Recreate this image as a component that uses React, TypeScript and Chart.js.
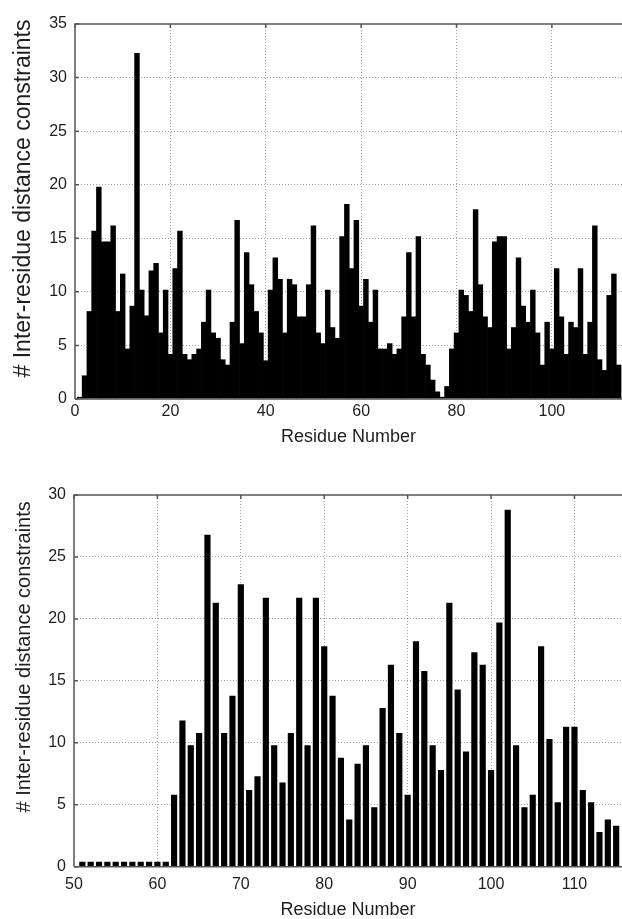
import React, { useEffect, useRef } from "react";
import { Chart, registerables } from "chart.js";

Chart.register(...registerables);

// ---------- data ----------
const range = (a: number, b: number) => {
  const out: number[] = [];
  for (let i = a; i <= b; i++) out.push(i);
  return out;
};

const topResidues = range(1, 114);
const topCounts = [
  0.2, 2.2, 8.2, 15.7, 19.8, 14.7, 14.7, 16.2, 8.2, 11.7,
  4.7, 8.7, 32.3, 10.2, 7.8, 12.0, 12.7, 6.2, 10.2, 4.2,
  12.2, 15.7, 4.2, 3.7, 4.2, 4.7, 7.2, 10.2, 6.2, 5.7,
  3.7, 3.2, 7.2, 16.7, 5.2, 13.7, 10.7, 8.2, 6.2, 3.6,
  10.2, 13.2, 11.2, 6.2, 11.2, 10.7, 7.7, 7.7, 10.7, 16.2,
  6.2, 5.2, 10.2, 6.7, 5.7, 15.2, 18.2, 12.2, 16.7, 8.7,
  11.2, 7.2, 10.2, 4.7, 4.7, 5.2, 4.2, 4.7, 7.7, 13.7,
  7.7, 15.2, 4.2, 3.2, 1.8, 0.7, 0.2, 1.2, 4.7, 6.2,
  10.2, 9.7, 8.2, 17.7, 10.7, 7.7, 6.7, 14.7, 15.2, 15.2,
  4.7, 6.7, 13.2, 8.7, 7.2, 10.2, 6.2, 3.2, 7.2, 4.7,
  12.2, 7.7, 4.2, 7.2, 6.7, 12.2, 4.2, 7.2, 16.2, 3.7,
  2.7, 9.7, 11.7, 3.2,
];
const topXTicks = [0, 20, 40, 60, 80, 100];
const topYTicks = [0, 5, 10, 15, 20, 25, 30, 35];

const bottomResidues = range(51, 115);
const bottomCounts = [
  0.4, 0.4, 0.4, 0.4, 0.4, 0.4, 0.4, 0.4, 0.4, 0.4,
  0.4, 5.8, 11.8, 9.8, 10.8, 26.8, 21.3, 10.8, 13.8, 22.8,
  6.2, 7.3, 21.7, 9.8, 6.8, 10.8, 21.7, 9.8, 21.7, 17.8,
  13.8, 8.8, 3.8, 8.3, 9.8, 4.8, 12.8, 16.3, 10.8, 5.8,
  18.2, 15.8, 9.8, 7.8, 21.3, 14.3, 9.3, 17.3, 16.3, 7.8,
  19.7, 28.8, 9.8, 4.8, 5.8, 17.8, 10.3, 5.2, 11.3, 11.3,
  6.2, 5.2, 2.8, 3.8, 3.3,
];
const bottomXTicks = [50, 60, 70, 80, 90, 100, 110];
const bottomYTicks = [0, 5, 10, 15, 20, 25, 30];

const xTitle = "Residue Number";
const yTitle = "# Inter-residue distance constraints";

// ---------- styling ----------
const FONT = "'Liberation Sans', Arial, Helvetica, sans-serif";
const TEXT = "#1e1e1e";
const GRID = "#a0a0a0";
const FRAME = "#555555";

const framePlugin = {
  id: "frame",
  afterDraw(chart: any, _args: any, opts: any) {
    const { ctx, chartArea: a } = chart;
    const xs = chart.scales.x;
    const ys = chart.scales.y;
    ctx.save();
    ctx.strokeStyle = FRAME;
    ctx.lineWidth = 1.5;
    ctx.beginPath();
    ctx.moveTo(a.left, a.bottom);
    ctx.lineTo(a.left, a.top);
    ctx.lineTo(a.right + 2, a.top);
    ctx.moveTo(a.left, a.bottom);
    ctx.lineTo(a.right + 2, a.bottom);
    ctx.stroke();
    // inward ticks
    ctx.beginPath();
    for (const v of opts.xTicks as number[]) {
      const px = xs.getPixelForValue(v);
      ctx.moveTo(px, a.top);
      ctx.lineTo(px, a.top + 4);
    }
    for (const v of opts.yTicks as number[]) {
      const py = ys.getPixelForValue(v);
      ctx.moveTo(a.left, py);
      ctx.lineTo(a.left + 4, py);
    }
    ctx.stroke();
    ctx.restore();
  },
};

const yTitlePlugin = {
  id: "yTitleText",
  afterDraw(chart: any, _args: any, opts: any) {
    const { ctx, chartArea: a } = chart;
    ctx.save();
    ctx.translate(opts.x, (a.top + a.bottom) / 2 + opts.dy);
    ctx.rotate(-Math.PI / 2);
    ctx.font = `${opts.size}px ${FONT}`;
    ctx.fillStyle = TEXT;
    ctx.textAlign = "center";
    ctx.textBaseline = "middle";
    ctx.fillText(opts.text, 0, 0);
    ctx.restore();
  },
};

type PanelCfg = {
  xs: number[];
  ys: number[];
  xMin: number;
  xMax: number;
  yMax: number;
  xTicks: number[];
  yTicks: number[];
  padTop: number;
  axisW: number;
  axisH: number;
  xTickPad: number;
  titlePadBottom: number;
  barPct: number;
  yTitleDy: number;
  yTitleSize: number;
};

function makeChart(canvas: HTMLCanvasElement, c: PanelCfg) {
  const points = c.xs.map((x, i) => ({ x, y: c.ys[i] }));
  const gridColor = (min: number, max: number) => (ctx: any) => {
    const v = ctx.tick ? ctx.tick.value : NaN;
    return v === min || v === max ? "rgba(0,0,0,0)" : GRID;
  };
  return new Chart(canvas, {
    type: "bar",
    data: {
      datasets: [
        {
          data: points as any,
          backgroundColor: "#000000",
          borderWidth: 0,
          barPercentage: c.barPct,
          categoryPercentage: 1,
        },
      ],
    },
    options: {
      animation: false,
      responsive: false,
      maintainAspectRatio: false,
      layout: { padding: { top: c.padTop, left: 0, right: 0, bottom: 0 } },
      plugins: {
        legend: { display: false },
        tooltip: { enabled: false },
        frame: { xTicks: c.xTicks, yTicks: c.yTicks },
        yTitleText: { text: yTitle, x: 24, dy: c.yTitleDy, size: c.yTitleSize },
      } as any,
      scales: {
        x: {
          type: "linear",
          min: c.xMin,
          max: c.xMax,
          offset: false,
          afterFit: (s: any) => {
            s.height = c.axisH;
          },
          afterBuildTicks: (s: any) => {
            s.ticks = c.xTicks.map((v) => ({ value: v }));
          },
          ticks: {
            padding: c.xTickPad,
            color: TEXT,
            font: { family: FONT, size: 16 },
            maxRotation: 0,
            autoSkip: false,
          },
          grid: {
            color: gridColor(c.xMin, c.xMax),
            lineWidth: 1,
            drawTicks: false,
            offset: false,
          },
          border: { display: false, dash: [1, 2] },
          title: {
            display: true,
            text: xTitle,
            color: TEXT,
            font: { family: FONT, size: 18, lineHeight: 1 },
            padding: { top: 0, bottom: c.titlePadBottom },
          },
        } as any,
        y: {
          min: 0,
          max: c.yMax,
          afterFit: (s: any) => {
            s.width = c.axisW;
          },
          afterBuildTicks: (s: any) => {
            s.ticks = c.yTicks.map((v) => ({ value: v }));
          },
          ticks: {
            padding: 8,
            color: TEXT,
            font: { family: FONT, size: 16 },
          },
          grid: {
            color: gridColor(0, c.yMax),
            lineWidth: 1,
            drawTicks: false,
          },
          border: { display: false, dash: [1, 2] },
        } as any,
      },
    },
    plugins: [framePlugin, yTitlePlugin],
  });
}

function Panel({ cfg, top, height }: { cfg: PanelCfg; top: number; height: number }) {
  const ref = useRef<HTMLCanvasElement | null>(null);
  useEffect(() => {
    if (!ref.current) return;
    const chart = makeChart(ref.current, cfg);
    return () => chart.destroy();
  }, [cfg]);
  return (
    <canvas
      ref={ref}
      width={622}
      height={height}
      style={{ position: "absolute", left: 0, top, width: 622, height }}
    />
  );
}

const topCfg: PanelCfg = {
  xs: topResidues,
  ys: topCounts,
  xMin: 0,
  xMax: 114.7,
  yMax: 35,
  xTicks: topXTicks,
  yTicks: topYTicks,
  padTop: 24,
  axisW: 75,
  axisH: 61,
  xTickPad: 3,
  titlePadBottom: 14,
  barPct: 1.14,
  yTitleDy: -13,
  yTitleSize: 23,
};

const bottomCfg: PanelCfg = {
  xs: bottomResidues,
  ys: bottomCounts,
  xMin: 50,
  xMax: 115.7,
  yMax: 30,
  xTicks: bottomXTicks,
  yTicks: bottomYTicks,
  padTop: 35,
  axisW: 74,
  axisH: 52.3,
  xTickPad: 8,
  titlePadBottom: 0,
  barPct: 0.74,
  yTitleDy: -24,
  yTitleSize: 20,
};

export default function App() {
  return (
    <div
      style={{
        position: "absolute",
        left: 0,
        top: 0,
        width: 622,
        height: 919,
        background: "#ffffff",
        overflow: "hidden",
      }}
    >
      <Panel cfg={topCfg} top={0} height={460} />
      <Panel cfg={bottomCfg} top={460} height={459} />
    </div>
  );
}
